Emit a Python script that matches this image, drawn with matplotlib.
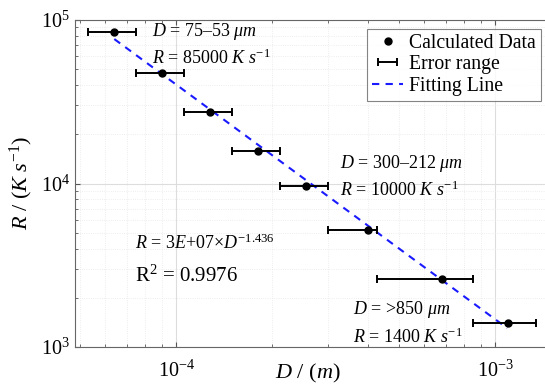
import matplotlib
matplotlib.use("Agg")
import matplotlib.pyplot as plt
import numpy as np

plt.rcParams['font.family'] = ['Liberation Serif', 'DejaVu Serif']
plt.rcParams['mathtext.fontset'] = 'custom'
plt.rcParams['mathtext.rm'] = 'Liberation Serif'
plt.rcParams['mathtext.it'] = 'Liberation Serif:italic'

# Data (particle diameter in m, cooling rate in K/s)
D_center = [6.4e-5, 9.0e-5, 1.28e-4, 1.81e-4, 2.56e-4, 4.0e-4, 6.8e-4, 1.1e-3]
D_low = [5.3e-5, 7.5e-5, 1.06e-4, 1.5e-4, 2.12e-4, 3.0e-4, 4.25e-4, 8.5e-4]
D_high = [7.5e-5, 1.06e-4, 1.5e-4, 2.12e-4, 3.0e-4, 4.25e-4, 8.5e-4, 1.34e-3]
R_vals = [85000, 47300, 27300, 15900, 9700, 5200, 2600, 1400]

# Fit: R = 3e7 * D_um^-1.436
fit_coef = 3e7
fit_exp = -1.436
fit_D_range = [6.4e-5, 1.09e-3]

W, H = 545, 387
fig = plt.figure(figsize=(5.45, 3.87), dpi=100)
ax_l, ax_r, ax_t, ax_b = 75, 556, 20, 347
ax = fig.add_axes([ax_l / W, 1 - ax_b / H, (ax_r - ax_l) / W, (ax_b - ax_t) / H])

Dc = np.array(D_center)
xerr = np.array([Dc - np.array(D_low), np.array(D_high) - Dc])
ax.errorbar(D_center, R_vals, xerr=xerr, fmt='none', ecolor='black',
            elinewidth=1.4, capsize=2.8, capthick=1.4, label='Error range', zorder=3)
ax.plot(D_center, R_vals, 'o', color='black', markersize=5, label='Calculated Data', zorder=4)

fd = np.array(fit_D_range)
ax.plot(fd, fit_coef * (fd * 1e6) ** fit_exp, '--', color='#1a1aff', lw=1.5,
        dashes=(3.5, 3), label='Fitting Line', zorder=2)

ax.set_xscale('log')
ax.set_yscale('log')
ax.set_xlim(4.82e-5, 1.55e-3)
ax.set_ylim(1e3, 1e5)

ax.grid(True, which='major', color='#dddddd', lw=0.8)
ax.grid(True, which='minor', color='#e8e8e8', lw=0.6, ls=':')
ax.tick_params(which='both', direction='in', labelsize=14.5, colors='#555555',
               labelcolor='black', top=True)
ax.tick_params(axis='x', pad=10)
for s in ax.spines.values():
    s.set_color('#666666')

ax.set_xlabel(r'$D$ / ($m$)', fontsize=16)
ax.xaxis.set_label_coords((308 - ax_l) / (ax_r - ax_l), -(362 - ax_b) / (ax_b - ax_t))
ax.set_ylabel(r'$R$ / ($K$ $s^{-1}$)', fontsize=16, labelpad=4)

h, l = ax.get_legend_handles_labels()
order = [l.index('Calculated Data'), l.index('Error range'), l.index('Fitting Line')]
leg = ax.legend([h[i] for i in order], [l[i] for i in order], loc='upper right',
                fontsize=14.2, frameon=True, fancybox=False, edgecolor='#666666',
                handlelength=1.6, handletextpad=0.3, borderpad=0.25, labelspacing=0.12,
                borderaxespad=0,
                bbox_to_anchor=((541 - ax_l) / (ax_r - ax_l), 1 - (29 - ax_t) / (ax_b - ax_t)))
leg.get_frame().set_linewidth(0.8)

def ft(x, y, s, size=13, **kw):
    fig.text(x / W, 1 - y / H, s, fontsize=size, transform=fig.transFigure,
             va='center', **kw)

ft(152, 32, r'$D$ = 75–53 $\mu m$')
ft(152, 58, r'$R$ = 85000 $K$ $s^{-1}$')
ft(340, 164, r'$D$ = 300–212 $\mu m$')
ft(340, 190, r'$R$ = 10000 $K$ $s^{-1}$')
ft(135, 243, r'$R$ = $3E$+$07$×$D^{-1.436}$')
ft(135, 276, r'R$^2$ = 0.9976', size=15)
ft(353, 309, r'$D$ = >$850$ $\mu m$')
ft(353, 337, r'$R$ = $1400$ $K$ $s^{-1}$')

fig.savefig('out.png', dpi=100)
